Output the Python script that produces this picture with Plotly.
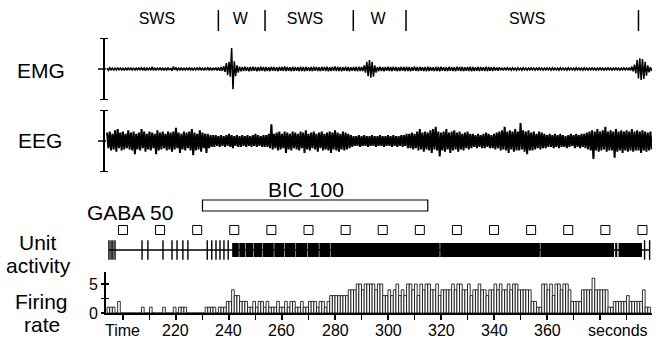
import plotly.graph_objects as go

W, H = 659, 339
FONT = "Liberation Sans"

# ---------------- data ----------------
# Firing rate (spikes per 1-s bin), bins start at t = 194 s
rate_t0 = 194
firing_rate = [
    1, 1, 1, 0, 2, 0, 0, 0, 0, 0,      # 194-203
    0, 0, 0, 1, 0, 0, 1, 0, 0, 0,      # 204-213
    0, 1, 0, 0, 0, 1, 0, 1, 1, 1,      # 214-223
    0, 0, 0, 0, 0, 0, 0, 1, 1, 1,      # 224-233
    1, 0, 1, 1, 1, 2, 2, 4, 3, 3,      # 234-243
    2, 2, 2, 1, 1, 2, 1, 2, 2, 1,      # 244-253
    2, 1, 1, 1, 2, 1, 1, 2, 1, 2,      # 254-263
    2, 1, 1, 2, 1, 1, 2, 2, 2, 1,      # 264-273
    2, 2, 1, 2, 3, 3, 3, 3, 3, 3,      # 274-283
    3, 4, 4, 4, 5, 5, 4, 5, 5, 5,      # 284-293
    5, 4, 5, 5, 3, 3, 4, 3, 4, 5,      # 294-303
    3, 4, 3, 5, 5, 4, 5, 3, 5, 4,      # 304-313
    5, 5, 4, 4, 5, 3, 4, 4, 4, 4,      # 314-323
    5, 4, 5, 5, 4, 4, 5, 3, 4, 4,      # 324-333
    5, 4, 4, 3, 4, 4, 5, 4, 5, 4,      # 334-343
    4, 5, 4, 5, 5, 4, 4, 4, 4, 4,      # 344-353
    2, 2, 1, 1, 5, 5, 4, 5, 3, 5,      # 354-363
    5, 4, 5, 5, 4, 2, 2, 2, 2, 4,      # 364-373
    4, 4, 4, 6, 4, 4, 4, 4, 4, 1,      # 374-383
    1, 2, 2, 2, 2, 2, 3, 2, 2, 2,      # 384-393
    2, 2, 4, 1, 1,                     # 394-398
]

# EEG / EMG envelopes (upper and lower excursion per second), t = 194..399 s
# (calibration bars span -13..13 in the same units)
trace_t0 = 194
calib = 13
eeg_upper = [
    3.5, 4, 3, 4.5, 5, 3.5, 4, 3, 4.5, 3.5,
    4, 3, 3.5, 5, 4, 3, 4, 3.5, 3, 4.5,
    3.5, 4, 3, 4, 3.5, 4, 5.5, 3.5, 3, 4,
    3.5, 4, 5, 3.5, 3, 4.5, 3.5, 3, 3, 2.5,
    2.5, 2.5, 2, 2.5, 2, 2.5, 3, 2.5, 2, 2.5,
    2, 2.5, 2, 2.5, 2, 2.5, 3, 2.5, 2, 2.5,
    2.5, 3, 7, 3, 3.5, 4, 3, 4, 3.5, 3,
    4, 3.5, 3, 4, 3.5, 4.5, 3, 3.5, 4, 3,
    3.5, 4, 3, 3.5, 4, 3.5, 4.5, 3.5, 3, 4,
    3.5, 3, 2.5, 2, 2, 2.5, 2, 2.5, 2, 2,
    2.5, 2, 2, 2.5, 2, 2, 2.5, 2, 2.5, 2,
    2, 2.5, 2.5, 3, 3, 3.5, 3, 4, 5, 3.5,
    4, 3.5, 4.5, 5, 6, 4, 3.5, 4, 5, 3.5,
    4, 4.5, 3.5, 4, 3, 3.5, 4, 3, 3, 2.5,
    3, 2.5, 3, 3.5, 3, 2.5, 3, 3.5, 4, 4.5,
    6, 4, 4.5, 4, 5, 4, 7.5, 4.5, 4, 4.5,
    3.5, 4, 3, 4, 3.5, 3, 2.5, 3, 2.5, 3,
    2.5, 3, 2.5, 2, 2.5, 3, 2.5, 3, 2.5, 3,
    3, 3.5, 4, 4.5, 4, 5, 4, 4.5, 6, 4,
    4.5, 4, 5, 4, 4.5, 4, 4.5, 4, 5, 4,
    4.5, 4, 4.5, 4, 3.5, 4,
]
eeg_lower = [
    -3, -4, -3.5, -4.5, -3, -4, -3.5, -3, -3.5, -4,
    -5.5, -3.5, -4, -3, -4.5, -3.5, -4, -3, -5.5, -4,
    -3.5, -3, -4, -3.5, -4.5, -3.5, -3, -5, -3.5, -4,
    -3, -4, -6, -4, -3.5, -4.5, -3, -5, -3, -2.5,
    -2.5, -2, -2.5, -2, -2.5, -2, -2.5, -3, -2, -2.5,
    -2.5, -2, -2.5, -2, -2.5, -2, -2.5, -2, -2.5, -2.5,
    -2.5, -3, -3.5, -3, -4, -3.5, -3, -5, -3.5, -4,
    -3, -3.5, -4, -3, -5, -3.5, -4, -3, -3.5, -4.5,
    -3, -4, -3.5, -4, -5, -3.5, -4, -4.5, -3.5, -4,
    -3.5, -3, -2.5, -2, -2, -2.5, -2, -2, -2.5, -2,
    -2, -2.5, -2, -2, -2.5, -2, -2, -2.5, -2, -2.5,
    -2, -2.5, -2, -3, -3, -3.5, -3, -4, -3.5, -4.5,
    -3.5, -4, -5, -3.5, -4, -6.5, -4, -4.5, -3.5, -5,
    -4, -3.5, -4.5, -3.5, -4, -3, -3.5, -3, -2.5, -3,
    -2.5, -3, -3, -2.5, -3, -3, -3.5, -3, -4, -3.5,
    -4, -5, -3.5, -4.5, -4, -4, -3.5, -4.5, -5.5, -4,
    -4, -3.5, -3, -3.5, -3, -3, -2.5, -2.5, -3, -2.5,
    -3, -2.5, -2.5, -3, -2.5, -2, -3, -2.5, -3, -2.5,
    -3, -3.5, -4, -7.5, -4, -4.5, -4, -3.5, -4.5, -4,
    -4, -7, -4.5, -4, -5, -4, -4.5, -4, -4.5, -4,
    -4, -5, -4, -4.5, -4, -3.5,
]
emg_upper = [
    .4, .5, .4, .5, .6, .4, .5, .4, .6, .4,
    .5, .4, .6, .5, .4, .6, .4, .9, .5, .4,
    .6, .4, .5, .6, .4, 1, .5, .4, .6, .5,
    .4, .6, .5, .4, .6, .5, .4, .6, .5, .6,
    .5, .6, .6, .8, 1.2, 2.5, 3, 8.8, 3.2, 1.5,
    1, .8, .9, .7, .8, 1, .8, .7, .9, .8,
    .8, .7, 1, .8, .7, .9, .8, 1.1, .8, .7,
    .9, .8, .7, 1, .8, .9, .7, .8, 1, .8,
    .7, .9, .8, 1, .7, .8, 1.1, .9, .8, .7,
    .9, .8, .7, .8, .9, 1, .8, 1.5, 3, 3.8,
    3, 1.5, .8, 1, .7, .8, .9, .8, 1, .8,
    .7, .9, .8, 1, .8, .7, 1.1, .8, .9, .7,
    .8, 1, .8, .7, .9, .8, 1, .7, .8, .9,
    .8, .7, 1, .8, .9, .7, .8, 1, .8, .7,
    .9, .8, .7, 1, .8, .7, .8, .6, .7, .5,
    .6, .5, .4, .5, .4, .5, .4, .5, .4, .4,
    .5, .4, .4, .5, .4, .4, .5, .4, .5, .4,
    .4, .5, .4, .4, .5, .4, .4, .5, .4, .4,
    .5, .4, .4, .5, .4, .4, .5, .4, .4, .5,
    .4, .4, .5, .4, .4, .5, .4, .6, 1, 1.8,
    3.8, 4.5, 4.2, 3, 1.5, .8,
]
emg_lower = [
    -.5, -.4, -.6, -.4, -.5, -.4, -.6, -.4, -.5, -.4,
    -.6, -.4, -.5, -.4, -.7, -.4, -.5, -.6, -.4, -.5,
    -.4, -.6, -.4, -.5, -.7, -.4, -.5, -.4, -.6, -.4,
    -.5, -.4, -.6, -.4, -.5, -.4, -.6, -.5, -.4, -.6,
    -.5, -.6, -.7, -.8, -1.2, -2.5, -3.2, -8.5, -3, -1.5,
    -1, -.8, -.7, -.9, -.8, -.7, -1, -.8, -.7, -.9,
    -.8, -.9, -.7, -.8, -1, -.7, -.8, -.9, -.7, -1,
    -.8, -.7, -.9, -.8, -1, -.7, -.8, -.9, -.7, -.8,
    -.9, -.7, -.8, -1, -.8, -.7, -.9, -.8, -1, -.7,
    -.8, -.9, -.7, -.8, -1, -.8, -.9, -1.5, -3, -3.6,
    -3.2, -1.5, -.9, -.8, -1, -.7, -.8, -.9, -.7, -1,
    -.8, -.7, -.9, -.8, -1, -.7, -.8, -.9, -.7, -.8,
    -1, -.8, -.7, -.9, -.8, -1, -.7, -.8, -.9, -.7,
    -.8, -1, -.7, -.8, -.9, -.7, -.8, -1, -.8, -.7,
    -.9, -.7, -.8, -.9, -.7, -.8, -.6, -.7, -.5, -.6,
    -.5, -.4, -.5, -.4, -.5, -.4, -.5, -.4, -.5, -.4,
    -.4, -.5, -.4, -.4, -.5, -.4, -.4, -.5, -.4, -.4,
    -.5, -.4, -.4, -.5, -.4, -.4, -.5, -.4, -.4, -.5,
    -.4, -.5, -.4, -.4, -.5, -.4, -.4, -.5, -.4, -.4,
    -.5, -.4, -.4, -.5, -.4, -.4, -.5, -.6, -1, -1.8,
    -4, -4.6, -4.2, -2.8, -1.4, -.8,
]

# Unit activity: isolated spikes and dense firing blocks (seconds)
spike_times = [194.7, 195.5, 196.2, 197.0, 207.2, 209.4, 215.1, 218.5, 220.4,
               222.6, 224.5, 231.8, 233.5, 235.1, 236.6, 238.1, 239.7,
               396.8, 398.7]
dense_start = [241.2, 243.9, 246.3, 249.3, 252.8, 257.1, 261.0, 265.3, 269.8,
               274.1, 278.3, 319.7, 357.5, 385.7, 387.0]
dense_end = [243.7, 246.1, 249.1, 252.6, 256.9, 260.8, 265.1, 269.6, 273.9,
             278.1, 319.5, 357.3, 385.3, 386.5, 395.8]

# GABA 50 pulses and BIC 100 application
gaba_times = [200, 214, 228, 242, 256, 270, 284, 298, 312, 326, 340, 354, 368, 382, 396]
bic_start, bic_end = 230, 315

# Sleep-state scoring
state_bounds = [236, 253.6, 286.9, 306.8, 394.5]
state_label_t = [212.8, 244.3, 268.7, 296.2, 352.5]
state_labels = ["SWS", "W", "SWS", "W", "SWS"]

# Axis ticks
tick_vals = [200, 220, 240, 260, 280, 300, 320, 340, 360]
tick_text = ["Time", "220", "240", "260", "280", "300", "320", "340", "360"]
minor_vals = [210, 230, 250, 270, 290, 310, 330, 350, 370, 380, 390]

# ---------------- figure ----------------
def px(x):
    return x / W


def py(y):
    return 1 - y / H


def zigzag(t0, upper, lower):
    xs, ys = [], []
    for i, (u, l) in enumerate(zip(upper, lower)):
        t = t0 + i
        xs += [t, t + 0.5]
        ys += [u, l]
    return xs, ys


fig = go.Figure()

for up, lo, ax, lw in ((emg_upper, emg_lower, "y2", 1.5), (eeg_upper, eeg_lower, "y3", 2.0)):
    zx, zy = zigzag(trace_t0, up, lo)
    fig.add_trace(go.Scatter(x=zx, y=zy, mode="lines",
                             line=dict(color="black", width=lw, simplify=False),
                             xaxis="x", yaxis=ax, hoverinfo="skip"))

# raster baseline + isolated spikes
fig.add_trace(go.Scatter(x=[spike_times[0], spike_times[-1]], y=[250, 250], mode="lines",
                         line=dict(color="black", width=1.5), xaxis="x", yaxis="y4",
                         hoverinfo="skip"))
fig.add_trace(go.Scatter(x=spike_times, y=[250] * len(spike_times), mode="markers",
                         marker=dict(symbol="line-ns", size=14,
                                     line=dict(color="black", width=1.4)),
                         xaxis="x", yaxis="y4", hoverinfo="skip", cliponaxis=False))
# GABA squares
fig.add_trace(go.Scatter(x=gaba_times, y=[230] * len(gaba_times), mode="markers",
                         marker=dict(symbol="square-open", size=9, color="black",
                                     line=dict(color="black", width=1)),
                         xaxis="x", yaxis="y4", hoverinfo="skip", cliponaxis=False))
# state labels
fig.add_trace(go.Scatter(x=state_label_t, y=[20] * len(state_labels), mode="text",
                         text=state_labels, textposition="middle center",
                         textfont=dict(family=FONT, size=16, color="black"),
                         xaxis="x", yaxis="y4", hoverinfo="skip", cliponaxis=False))

# firing-rate histogram
fig.add_trace(go.Bar(x=[rate_t0 + i for i in range(len(firing_rate))], y=firing_rate,
                     width=1, offset=0,
                     marker=dict(color="white", line=dict(color="black", width=0.8)),
                     xaxis="x", yaxis="y", hoverinfo="skip"))
# invisible trace for overlay tick axis
fig.add_trace(go.Scatter(x=[200], y=[0], mode="markers", marker=dict(opacity=0),
                         xaxis="x", yaxis="y5", hoverinfo="skip"))

shapes = []
for b in state_bounds:
    shapes.append(dict(type="line", xref="x", yref="y4", x0=b, x1=b, y0=10, y1=31,
                       line=dict(color="black", width=1.5)))
for s, e in zip(dense_start, dense_end):
    shapes.append(dict(type="rect", xref="x", yref="y4", x0=s, x1=e, y0=243, y1=257,
                       fillcolor="black", line=dict(width=0)))
shapes.append(dict(type="rect", xref="x", yref="y4", x0=bic_start, x1=bic_end,
                   y0=200, y1=211, line=dict(color="black", width=1.2),
                   fillcolor="white", layer="below"))
# calibration bars for EMG / EEG
for ax in ("y2", "y3"):
    shapes.append(dict(type="line", xref="paper", yref=ax, x0=px(104), x1=px(104),
                       y0=-calib, y1=calib, line=dict(color="black", width=2)))
    for yy in (-calib, calib):
        shapes.append(dict(type="line", xref="paper", yref=ax, x0=px(100), x1=px(108),
                           y0=yy, y1=yy, line=dict(color="black", width=2)))
    shapes.append(dict(type="line", xref="paper", yref=ax, x0=px(98), x1=px(106),
                       y0=0, y1=0, line=dict(color="black", width=1.5)))

annotations = []


def ann(text, x, y, size):
    annotations.append(dict(text=text, x=px(x), y=py(y), xref="paper", yref="paper",
                            xanchor="center", yanchor="middle", showarrow=False,
                            font=dict(family=FONT, size=size, color="black")))


ann("EMG", 41, 70, 21)
ann("EEG", 40, 140, 21)
ann("BIC 100", 306, 189, 21)
ann("GABA 50", 130, 212, 21)
ann("Unit", 38, 242, 21)
ann("activity", 38, 265, 21)
ann("Firing", 41, 301, 21)
ann("rate", 42, 324, 21)
ann("seconds", 618, 330, 16)
# x tick labels (placed just under the axis)
for v, txt in zip(tick_vals, tick_text):
    annotations.append(dict(text=txt, x=v, y=py(330), xref="x", yref="paper",
                            xanchor="center", yanchor="middle", showarrow=False,
                            font=dict(family=FONT, size=16, color="black")))

fig.update_layout(
    template="none",
    width=W, height=H, margin=dict(l=0, r=0, t=0, b=0, pad=0), autosize=False,
    paper_bgcolor="white", plot_bgcolor="rgba(0,0,0,0)", showlegend=False,
    shapes=shapes, annotations=annotations, bargap=0,
    font=dict(family=FONT, color="black"),
    xaxis=dict(domain=[px(106), px(652)], range=[193.6, 399.6], anchor="y",
               automargin=False,
               showline=True, linewidth=2, linecolor="black", showgrid=False,
               zeroline=False, ticks="outside", ticklen=5, tickwidth=1.5,
               tickcolor="black", tickvals=tick_vals, showticklabels=False,
               minor=dict(tickmode="array", tickvals=minor_vals, ticks="outside",
                          ticklen=5, tickwidth=1.5, tickcolor="black", showgrid=False)),
    yaxis=dict(domain=[py(313), py(272)], range=[0, 7.07], anchor="x",
               automargin=False,
               showline=True, linewidth=2, linecolor="black", showgrid=False,
               zeroline=False, ticks="outside", ticklen=3, tickwidth=1.5,
               tickcolor="black", tickvals=[0, 2.5, 5], ticktext=["0", "", "5"],
               tickfont=dict(family=FONT, size=16, color="black")),
    yaxis5=dict(overlaying="y", range=[0, 7.07], anchor="x", showline=False,
                automargin=False,
                showgrid=False, zeroline=False, ticks="inside", ticklen=3,
                tickwidth=1.5, tickcolor="black", tickvals=[2.5, 5],
                showticklabels=False),
    yaxis2=dict(domain=[py(100), py(38)], range=[-calib, calib], anchor="x",
                visible=False, automargin=False),
    yaxis3=dict(domain=[py(172), py(110)], range=[-calib, calib], anchor="x",
                visible=False, automargin=False),
    yaxis4=dict(domain=[0, 1], range=[H, 0], anchor="x", visible=False,
                automargin=False),
)

fig.write_html("out.html", config={"displayModeBar": False, "staticPlot": True},
               post_script="document.body.style.margin='0';"
                           "document.body.style.overflow='hidden';")
